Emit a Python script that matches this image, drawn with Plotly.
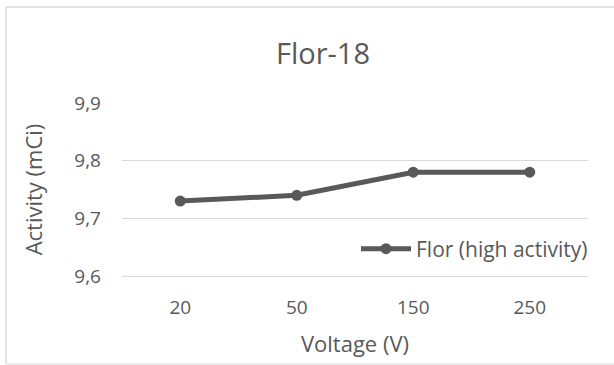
import plotly.graph_objects as go

voltage = ["20", "50", "150", "250"]
activity = [9.73, 9.74, 9.78, 9.78]
y_ticks = [9.6, 9.7, 9.8, 9.9]
y_tick_labels = ["9,6", "9,7", "9,8", "9,9"]

W, H = 614, 365
L, R, T, B = 122, 26, 103, 89
pw, ph = W - L - R, H - T - B

def px_x(x):
    return (x - L) / pw

def px_y(y):
    return (H - B - y) / ph

grey = "#595959"
font = "Open Sans"

fig = go.Figure()
fig.add_trace(go.Scatter(
    x=voltage, y=activity, mode="lines+markers",
    name="Flor (high activity)",
    line=dict(color=grey, width=5),
    marker=dict(color=grey, size=11),
))

fig.update_layout(
    width=W, height=H,
    margin=dict(l=L, r=R, t=T, b=B),
    paper_bgcolor="white", plot_bgcolor="white",
    font=dict(family=font, color=grey),
    title=dict(text="Flor-18", x=px_x(323), xref="paper", xanchor="center",
               y=1 - 54 / H, yanchor="middle",
               font=dict(size=29, color=grey, family=font)),
    xaxis=dict(
        type="category", range=[-0.5, 3.5],
        showgrid=False, showline=True, linecolor="#d9d9d9", linewidth=1,
        ticks="", tickfont=dict(size=19, color=grey), ticklabelstandoff=14,
        title=dict(text="Voltage (V)", font=dict(size=22, color=grey), standoff=17),
        zeroline=False,
    ),
    yaxis=dict(
        range=[9.6, 9.9], tickvals=y_ticks, ticktext=y_tick_labels,
        showgrid=True, gridcolor="#d9d9d9", gridwidth=1,
        showline=False, ticks="", zeroline=False,
        tickfont=dict(size=19, color=grey), ticklabelstandoff=20,
        title=dict(text="Activity (mCi)", font=dict(size=22, color=grey), standoff=25),
    ),
    legend=dict(
        x=px_x(593), xanchor="right", y=px_y(249), yanchor="middle",
        bgcolor="rgba(0,0,0,0)", font=dict(size=21, color=grey),
        itemwidth=50,
    ),
    showlegend=True,
)

# chart area frame
border = "#d9d9d9"
fig.add_shape(type="line", xref="paper", yref="paper",
              x0=px_x(6), x1=px_x(620), y0=px_y(7), y1=px_y(7),
              line=dict(color=border, width=1.5))
fig.add_shape(type="line", xref="paper", yref="paper",
              x0=px_x(6), x1=px_x(6), y0=px_y(7), y1=px_y(364),
              line=dict(color=border, width=1.5))
fig.add_shape(type="line", xref="paper", yref="paper",
              x0=px_x(6), x1=px_x(620), y0=px_y(364), y1=px_y(364),
              line=dict(color=border, width=1))

fig.write_html("out.html")
